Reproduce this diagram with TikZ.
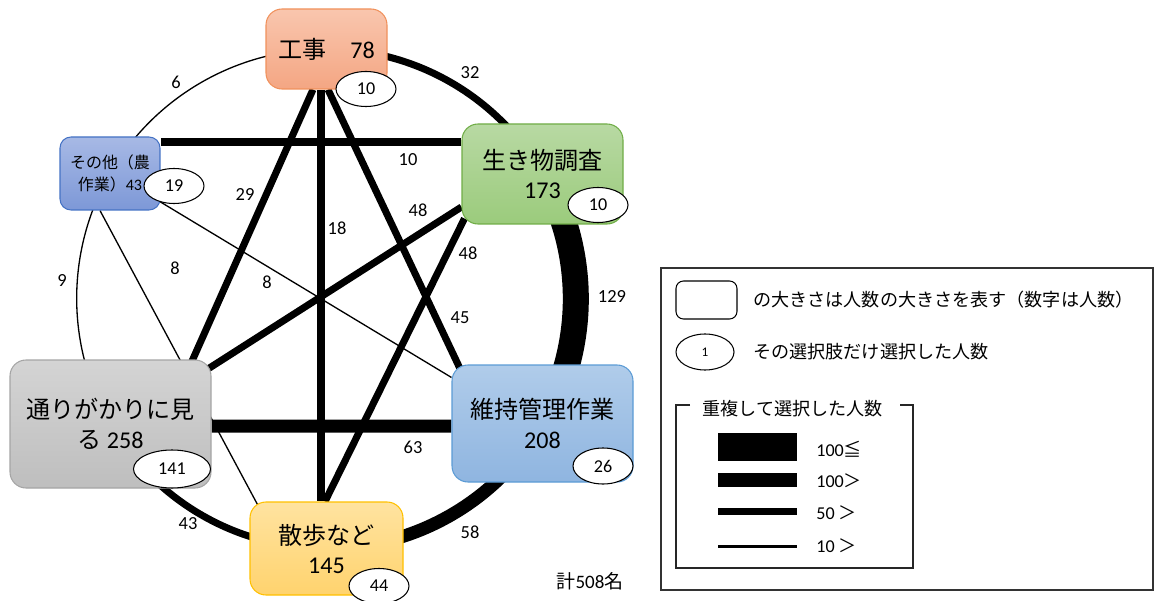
\documentclass[tikz,border=0pt]{standalone}
\usepackage{fontspec}
\setmainfont{Carlito}
\newfontfamily\jp{Noto Sans CJK JP}
\usetikzlibrary{backgrounds,calc,shapes.geometric}
\definecolor{kTop}{HTML}{F9C6AE}\definecolor{kBot}{HTML}{F4A683}\definecolor{kLn}{HTML}{F0915C}
\definecolor{iTop}{HTML}{B8D9A3}\definecolor{iBot}{HTML}{9BCB7C}\definecolor{iLn}{HTML}{70AD47}
\definecolor{oTop}{HTML}{A7B9E5}\definecolor{oBot}{HTML}{7D98D7}\definecolor{oLn}{HTML}{4472C4}
\definecolor{tTop}{HTML}{D4D4D4}\definecolor{tBot}{HTML}{BEBEBE}\definecolor{tLn}{HTML}{A5A5A5}
\definecolor{sTop}{HTML}{FFE3A0}\definecolor{sBot}{HTML}{FFD36E}\definecolor{sLn}{HTML}{FFC000}
\definecolor{mTop}{HTML}{B0CCEA}\definecolor{mBot}{HTML}{8FB5E0}\definecolor{mLn}{HTML}{5B9BD5}
\begin{document}
\begin{tikzpicture}[x=0.02cm,y=0.02cm,
  sz/.style 2 args={minimum width=#1*0.02cm,minimum height=#2*0.02cm},
  box/.style={rounded corners=0.32cm,line width=0.6pt,align=center,inner sep=0,
    font=\fontsize{13.7}{16.5}\selectfont},
  oval/.style={ellipse,draw,fill=white,line width=0.6pt,inner sep=0,sz={60}{35},
    font=\fontsize{10.3}{12}\selectfont},
  lbl/.style={inner sep=0,font=\fontsize{10.5}{12}\selectfont},
  lgtxt/.style={inner sep=0,anchor=west,font=\fontsize{10.3}{12}\selectfont},
  thinedge/.style={line width=0.75pt},
  midedge/.style={line width=4pt},
  thickedge/.style={line width=7.4pt},
  hugeedge/.style={line width=14.8pt},
  arcb/.style={bend left=30,looseness=0.913}]
\useasboundingbox (0,0) rectangle (1159,-601);
% boxes
\node[box,sz={121}{80},top color=kTop,bottom color=kBot,draw=kLn] (K) at (326.5,-49) {{\jp 工事　}78};
\node[box,sz={161}{100},top color=iTop,bottom color=iBot,draw=iLn] (I) at (542.5,-174) {{\jp 生き物調査}\\173};
\node[box,sz={100}{73},rounded corners=0.22cm,top color=oTop,bottom color=oBot,draw=oLn,
  font=\fontsize{9.1}{13}\selectfont] (O) at (110,-173.5) {{\jp その他（農}\\{\jp 作業）}43};
\node[box,sz={201}{128},top color=tTop,bottom color=tBot,draw=tLn,font=\fontsize{13.7}{17}\selectfont] (T) at (110.5,-424) {{\jp 通りがかりに見}\\{\jp る} 258};
\node[box,sz={153}{93},top color=sTop,bottom color=sBot,draw=sLn] (S) at (326.5,-548.5) {{\jp 散歩など}\\145};
\node[box,sz={181}{117},top color=mTop,bottom color=mBot,draw=mLn,font=\fontsize{13.7}{17}\selectfont] (M) at (542.5,-423.5) {{\jp 維持管理作業}\\208};
% ovals
\node[oval] (eK) at (366,-89) {10};
\node[oval] (eI) at (598,-205) {10};
\node[oval] (eO) at (174,-186) {19};
\node[oval,sz={77}{38}] (eT) at (172,-469) {141};
\node[oval] (eS) at (379,-586) {44};
\node[oval,sz={60}{36}] (eM) at (603,-466) {26};
% connectors
\begin{scope}[on background layer]
  \draw[midedge] (K.center) to[arcb] (I.center);
  \draw[hugeedge] (I.center) to[arcb] (M.center);
  \draw[thickedge] (M.center) to[arcb] (S.center);
  \draw[midedge] (S.center) to[arcb] (T.center);
  \draw[thinedge] (T.center) to[arcb] (O.center);
  \draw[thinedge] (O.center) to[arcb] (K.center);
  \draw[midedge] ($(K.south)+(-13.5,0)$) -- ($(T.north east)+(-21,-5)$);
  \draw[midedge] ($(K.south)+(-5.5,0)$) -- ($(S.north)+(-5.5,0)$);
  \draw[midedge] ($(K.south)+(1.5,0)$) -- ($(M.north west)+(8,-3)$);
  \draw[midedge] ($(I.west)+(0,32)$) -- ($(O.east)+(0,31.5)$);
  \draw[midedge] ($(I.west)+(0,-33)$) -- ($(T.north east)+(-6,-11)$);
  \draw[midedge] ($(I.south west)+(3,6)$) -- ($(S.north)+(-1.5,0)$);
  \draw[thinedge] ($(O.south)+(-10,0)$) -- ($(S.north west)+(8,-3)$);
  \draw[thinedge] ($(O.east)+(0,-28.5)$) -- ($(M.north west)+(0,-13)$);
  \draw[thickedge] ($(T.east)+(0,-2)$) -- ($(M.west)+(0,-2.5)$);
\end{scope}
% edge labels
\node[lbl] (l6) at (176,-82) {6};
\node[lbl] (l32) at (470,-73) {32};
\node[lbl] (l10) at (408,-160) {10};
\node[lbl] (l29) at (245,-195) {29};
\node[lbl] (l18) at (337,-228) {18};
\node[lbl] (l48a) at (418,-210) {48};
\node[lbl] (l48b) at (468,-253) {48};
\node[lbl] (l129) at (612,-297) {129};
\node[lbl] (l9) at (62,-281) {9};
\node[lbl] (l8a) at (175,-268) {8};
\node[lbl] (l8b) at (267,-282) {8};
\node[lbl] (l45) at (460,-318) {45};
\node[lbl] (l63) at (413,-447) {63};
\node[lbl] (l43) at (188,-524) {43};
\node[lbl] (l58) at (470,-532) {58};
\node[lbl,font=\fontsize{10.8}{12}\selectfont] (total) at (590,-581) {{\jp 計}508{\jp 名}};
% legend
\draw[line width=0.8pt,black!80] (661,-268) rectangle (1153,-590);
\node[draw,rounded corners=0.15cm,line width=0.6pt,sz={61}{38},inner sep=0] (lgbox) at (706.5,-300) {};
\node[lgtxt] (lgt1) at (753,-300) {\jp の大きさは人数の大きさを表す（数字は人数）};
\node[oval,sz={58}{36},font=\fontsize{7.5}{9}\selectfont] (lgoval) at (705,-352) {1};
\node[lgtxt] (lgt2) at (753,-352) {\jp その選択肢だけ選択した人数};
\draw[line width=0.7pt,black!85] (690,-405) -- (676,-405) -- (676,-568) -- (913,-568) -- (913,-405) -- (900,-405);
\node[lgtxt] (lgt3) at (702,-409) {\jp 重複して選択した人数};
\fill (718,-433) rectangle (797,-461);
\fill (718,-473) rectangle (797,-487);
\fill (718,-507.5) rectangle (797,-514.5);
\fill (718,-545) rectangle (797,-547.5);
\node[lgtxt] (lg1) at (816,-449) {100{\jp ≦}};
\node[lgtxt] (lg2) at (816,-481) {100{\jp ＞}};
\node[lgtxt] (lg3) at (816,-513) {50 {\jp ＞}};
\node[lgtxt] (lg4) at (816,-546) {10 {\jp ＞}};
\end{tikzpicture}
\end{document}
